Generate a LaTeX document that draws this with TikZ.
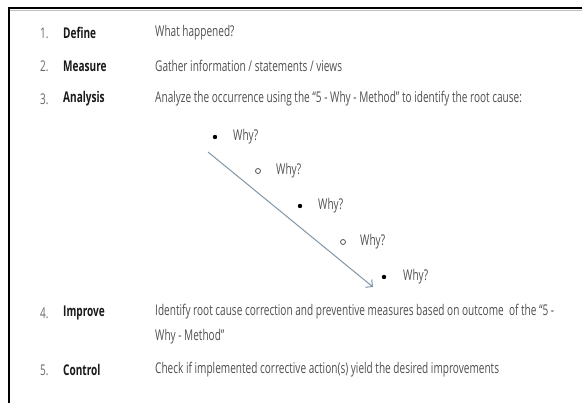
\documentclass[tikz,border=0pt]{standalone}
\usepackage{fontspec}
\setmainfont{Open Sans}[FakeStretch=0.68]
\usetikzlibrary{arrows.meta}
\definecolor{desccol}{HTML}{505050}
\definecolor{labcol}{HTML}{1A1A1A}
\definecolor{numcol}{HTML}{6A6A6A}
\definecolor{arrcol}{HTML}{8096A6}
\begin{document}
\begin{tikzpicture}[x=1pt,y=-1pt,
  txt/.style={anchor=west,inner sep=0pt,font=\fontsize{14.8}{25}\selectfont},
  num/.style={txt,text=numcol},
  lab/.style={txt,text=labcol,font=\fontsize{14.8}{25}\selectfont\bfseries},
  desc/.style={txt,text=desccol,align=left},
  why/.style={txt,text=desccol},
  fdot/.style={circle,fill=black,inner sep=0pt,minimum size=4.4pt},
  odot/.style={circle,draw=desccol,line width=0.8pt,inner sep=0pt,minimum size=5pt},
  arr/.style={draw=arrcol,line width=1pt,-{Straight Barb[length=5pt,width=10pt]}}]
\useasboundingbox (0,0) rectangle (582,403);
\fill[white] (0,0) rectangle (582,403);
% frame
\draw[black!25,line width=0.8pt] (10,10.6) -- (582,10.6);
\draw[black,line width=2pt] (8.5,403) -- (8.5,8) -- (582,8);
% rows
\node[num] (n1) at (40,33) {1.};
\node[lab] (l1) at (63,33) {Define};
\node[desc] (d1) at (155,33) {What happened?};
\node[num] (n2) at (40,66) {2.};
\node[lab] (l2) at (63,66) {Measure};
\node[desc] (d2) at (155,66) {Gather information / statements / views};
\node[num] (n3) at (40,99) {3.};
\node[lab] (l3) at (63,99) {Analysis};
\node[desc] (d3) at (155,99) {Analyze the occurrence using the “5 - Why - Method” to identify the root cause:};
% whys
\node[fdot] (b1) at (215,137) {};
\node[why] (w1) at (233,137) {Why?};
\node[odot] (b2) at (258,171) {};
\node[why] (w2) at (276,171) {Why?};
\node[fdot] (b3) at (300,206) {};
\node[why] (w3) at (318,206) {Why?};
\node[odot] (b4) at (343,242) {};
\node[why] (w4) at (360,242) {Why?};
\node[fdot] (b5) at (384,277) {};
\node[why] (w5) at (403,277) {Why?};
\coordinate (as) at (208,152);
\coordinate (ae) at (373,287);
\draw[arr] (as) -- (ae);
% rows 4-5
\node[num] (n4) at (40,313) {4.};
\node[lab] (l4) at (63,313) {Improve};
\node[desc,anchor=north west] (d4) at (155,304) {Identify root cause correction and preventive measures based on outcome\ \ of the “5 -\\Why - Method”};
\node[num] (n5) at (40,370) {5.};
\node[lab] (l5) at (63,370) {Control};
\node[desc] (d5) at (155,370) {Check if implemented corrective action(s) yield the desired improvements};
\end{tikzpicture}
\end{document}
